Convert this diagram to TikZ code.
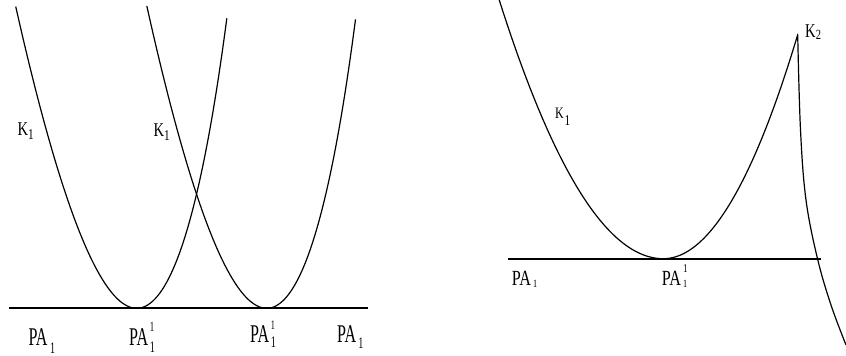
\documentclass[tikz,border=0pt]{standalone}
\usepackage{fontspec}
\setmainfont{Liberation Serif}
\newfontfamily\fa[FakeStretch=0.63]{Liberation Serif}
\newfontfamily\fb[FakeStretch=0.75]{Liberation Serif}
\newcommand\fsz[1]{\fontsize{#1}{#1}\selectfont}
\newcommand\scr[3]{\raisebox{#1}{\fsz{#2}#3}}
\tikzset{
  lab/.style={inner sep=0pt, anchor=base west},
  curve/.style={line width=1.2pt, black},
  axisline/.style={line width=2.2pt, black},
  axisthin/.style={line width=1.6pt, black}
}
\begin{document}
\begin{tikzpicture}[x=1pt, y=-1pt]
\useasboundingbox (0,0) rectangle (846,356);
% left panel
\draw[axisline] (9,308.3) -- (367.7,308.3);
\draw[curve] plot[domain=-17.37:17.03, samples=90, variable=\s]
  ({136.7+6.12*\s-0.0486*\s*\s},{308.3-\s*\s});
\draw[curve] plot[domain=-17.39:17.0, samples=90, variable=\s]
  ({266.7+6.05*\s-0.0486*\s*\s},{308.3-\s*\s});
\node[lab] (ka) at (17.3,135) {\fb\fsz{19.5}K\scr{-4pt}{15}{1}};
\node[lab] (kb) at (153.3,136.7) {\fb\fsz{19.5}K\scr{-4pt}{15}{1}};
\node[lab] (pa1) at (28.3,345) {\fa\fsz{25.5}PA\hspace{2.5pt}\scr{-8pt}{16}{1}};
\node[lab] (pa2) at (129,345) {\fa\fsz{25.5}PA\hspace{1.5pt}\rlap{\scr{14pt}{14}{1}}\scr{-7pt}{16}{1}};
\node[lab] (pa3) at (250,342) {\fa\fsz{25.5}PA\hspace{1.5pt}\rlap{\scr{13pt}{13}{1}}\scr{-5pt}{16}{1}};
\node[lab] (pa4) at (337,342) {\fa\fsz{25.5}PA\hspace{2pt}\scr{-6pt}{16}{1}};
% right panel
\draw[axisthin] (508.3,258.7) -- (820.7,258.7);
\draw[curve, line join=miter] plot[domain=16.1:0, samples=60, variable=\s]
  ({663.3-10.2*\s},{258.7-\s*\s})
  -- plot[domain=0:14.96, samples=60, variable=\s]
  ({663.3+8.98*\s},{258.7-\s*\s})
  -- plot[smooth, tension=0.6] coordinates {(797.7,35) (800.5,130) (806,200) (817.5,258.7) (831,305) (846,345)};
\node[lab] (kc) at (555,118.3) {\fb\fsz{16}K\hspace{0.8pt}\scr{-7pt}{15}{1}};
\node[lab] (kd) at (805,37) {\fb\fsz{19.5}K\scr{-2pt}{14}{2}};
\node[lab] (pa5) at (511.7,285) {\fb\fsz{21.6}PA\hspace{2pt}\scr{-2pt}{11}{1}};
\node[lab] (pa6) at (661.7,285) {\fb\fsz{21.6}PA\hspace{2pt}\rlap{\scr{13pt}{12}{1}}\scr{-2pt}{11}{1}};
\end{tikzpicture}
\end{document}
